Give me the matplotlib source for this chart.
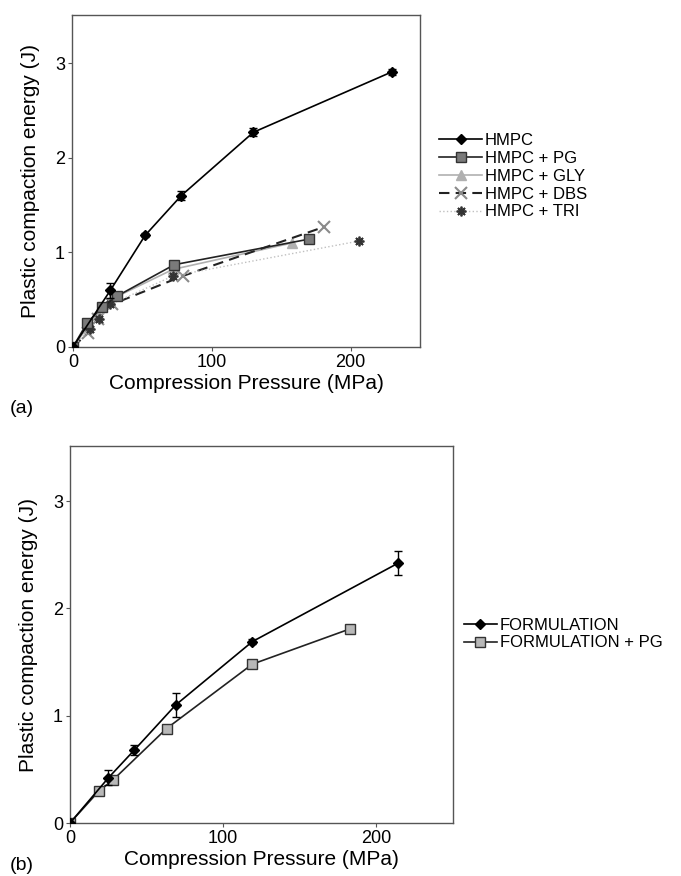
import matplotlib
matplotlib.use("Agg")
import matplotlib.pyplot as plt

plt.rcParams['font.family'] = ['Liberation Sans', 'DejaVu Sans']

# panel (a) data
hmpc_x = [0, 27, 52, 78, 130, 230]
hmpc_y = [0, 0.60, 1.18, 1.60, 2.27, 2.91]
hmpc_err = [0, 0.08, 0.02, 0.05, 0.04, 0.03]
pg_x = [0, 10, 21, 32, 73, 170]
pg_y = [0, 0.25, 0.42, 0.54, 0.87, 1.14]
gly_x = [0, 10, 18, 27, 72, 158]
gly_y = [0, 0.20, 0.35, 0.50, 0.82, 1.10]
dbs_x = [0, 11, 18, 28, 79, 181]
dbs_y = [0, 0.15, 0.30, 0.45, 0.75, 1.27]
tri_x = [0, 12, 19, 27, 72, 206]
tri_y = [0, 0.19, 0.30, 0.45, 0.75, 1.12]

# panel (b) data
form_x = [0, 25, 42, 69, 119, 214]
form_y = [0, 0.42, 0.68, 1.10, 1.69, 2.42]
form_err = [0, 0.07, 0.05, 0.11, 0.02, 0.11]
formpg_x = [0, 19, 28, 63, 119, 183]
formpg_y = [0, 0.30, 0.40, 0.88, 1.48, 1.81]

fig = plt.figure(figsize=(6.81, 8.76), dpi=100)

def style_axes(ax):
    ax.set_xlim(-0.7, 250)
    ax.set_ylim(0, 3.51)
    ax.set_xticks([0, 100, 200])
    ax.set_yticks([0, 1, 2, 3])
    for s in ax.spines.values():
        s.set_color('#555555')
        s.set_linewidth(1.0)
    ax.tick_params(direction='out', length=3, color='#555555', labelsize=13, pad=2)
    ax.set_xlabel('Compression Pressure (MPa)', fontsize=15, labelpad=2)
    ax.set_ylabel('Plastic compaction energy (J)', fontsize=15, labelpad=11)

# (a)
ax1 = fig.add_axes([0.1057, 0.6039, 0.511, 0.379])
ax1.errorbar(hmpc_x, hmpc_y, yerr=hmpc_err, fmt='none', ecolor='black',
             capsize=3, elinewidth=1, zorder=5)
h1, = ax1.plot(hmpc_x, hmpc_y, color='black', lw=1.2, marker='D', ms=5, label='HMPC', zorder=5)
h2, = ax1.plot(pg_x, pg_y, color='#222222', lw=1.2, marker='s', ms=7, mfc='#7a7a7a', mec='#333333',
               label='HMPC + PG', zorder=4)
h3, = ax1.plot(gly_x, gly_y, color='#b0b0b0', lw=1.2, marker='^', ms=7, mfc='#b0b0b0', mec='#b0b0b0',
               label='HMPC + GLY', zorder=3)
h4, = ax1.plot(dbs_x, dbs_y, color='#222222', lw=1.5, ls=(0, (5, 3)), marker='x', ms=8, mew=1.5,
               mec='#8a8a8a', label='HMPC + DBS', zorder=3)
h5, = ax1.plot(tri_x, tri_y, color='#c0c0c0', lw=1.0, ls=':', marker=(8, 2, 0), ms=7, mew=1.3,
               mec='#333333', label='HMPC + TRI', zorder=3)
style_axes(ax1)
fig.legend([h1, h2, h3, h4, h5], [h.get_label() for h in [h1, h2, h3, h4, h5]],
           loc='upper left', bbox_to_anchor=(0.6446, 0.848),
           frameon=False, fontsize=12, handlelength=2.6, handletextpad=0.15,
           labelspacing=0.17, borderpad=0, borderaxespad=0)
fig.text(0.015, 0.528, '(a)', fontsize=14)

# (b)
ax2 = fig.add_axes([0.1028, 0.0605, 0.5624, 0.430])
ax2.errorbar(form_x, form_y, yerr=form_err, fmt='none', ecolor='black',
             capsize=3, elinewidth=1, zorder=5)
g1, = ax2.plot(form_x, form_y, color='black', lw=1.2, marker='D', ms=5, label='FORMULATION', zorder=5)
g2, = ax2.plot(formpg_x, formpg_y, color='#222222', lw=1.2, marker='s', ms=7, mfc='#b8b8b8',
               mec='#333333', label='FORMULATION + PG', zorder=4)
style_axes(ax2)
ax2.set_xlim(0, 250)
fig.legend([g1, g2], ['FORMULATION', 'FORMULATION + PG'], loc='upper left',
           bbox_to_anchor=(0.681, 0.295),
           frameon=False, fontsize=12, handlelength=2.0, handletextpad=0.15,
           labelspacing=0.17, borderpad=0, borderaxespad=0)
fig.text(0.015, 0.007, '(b)', fontsize=14)

fig.savefig('out.png', dpi=100)
